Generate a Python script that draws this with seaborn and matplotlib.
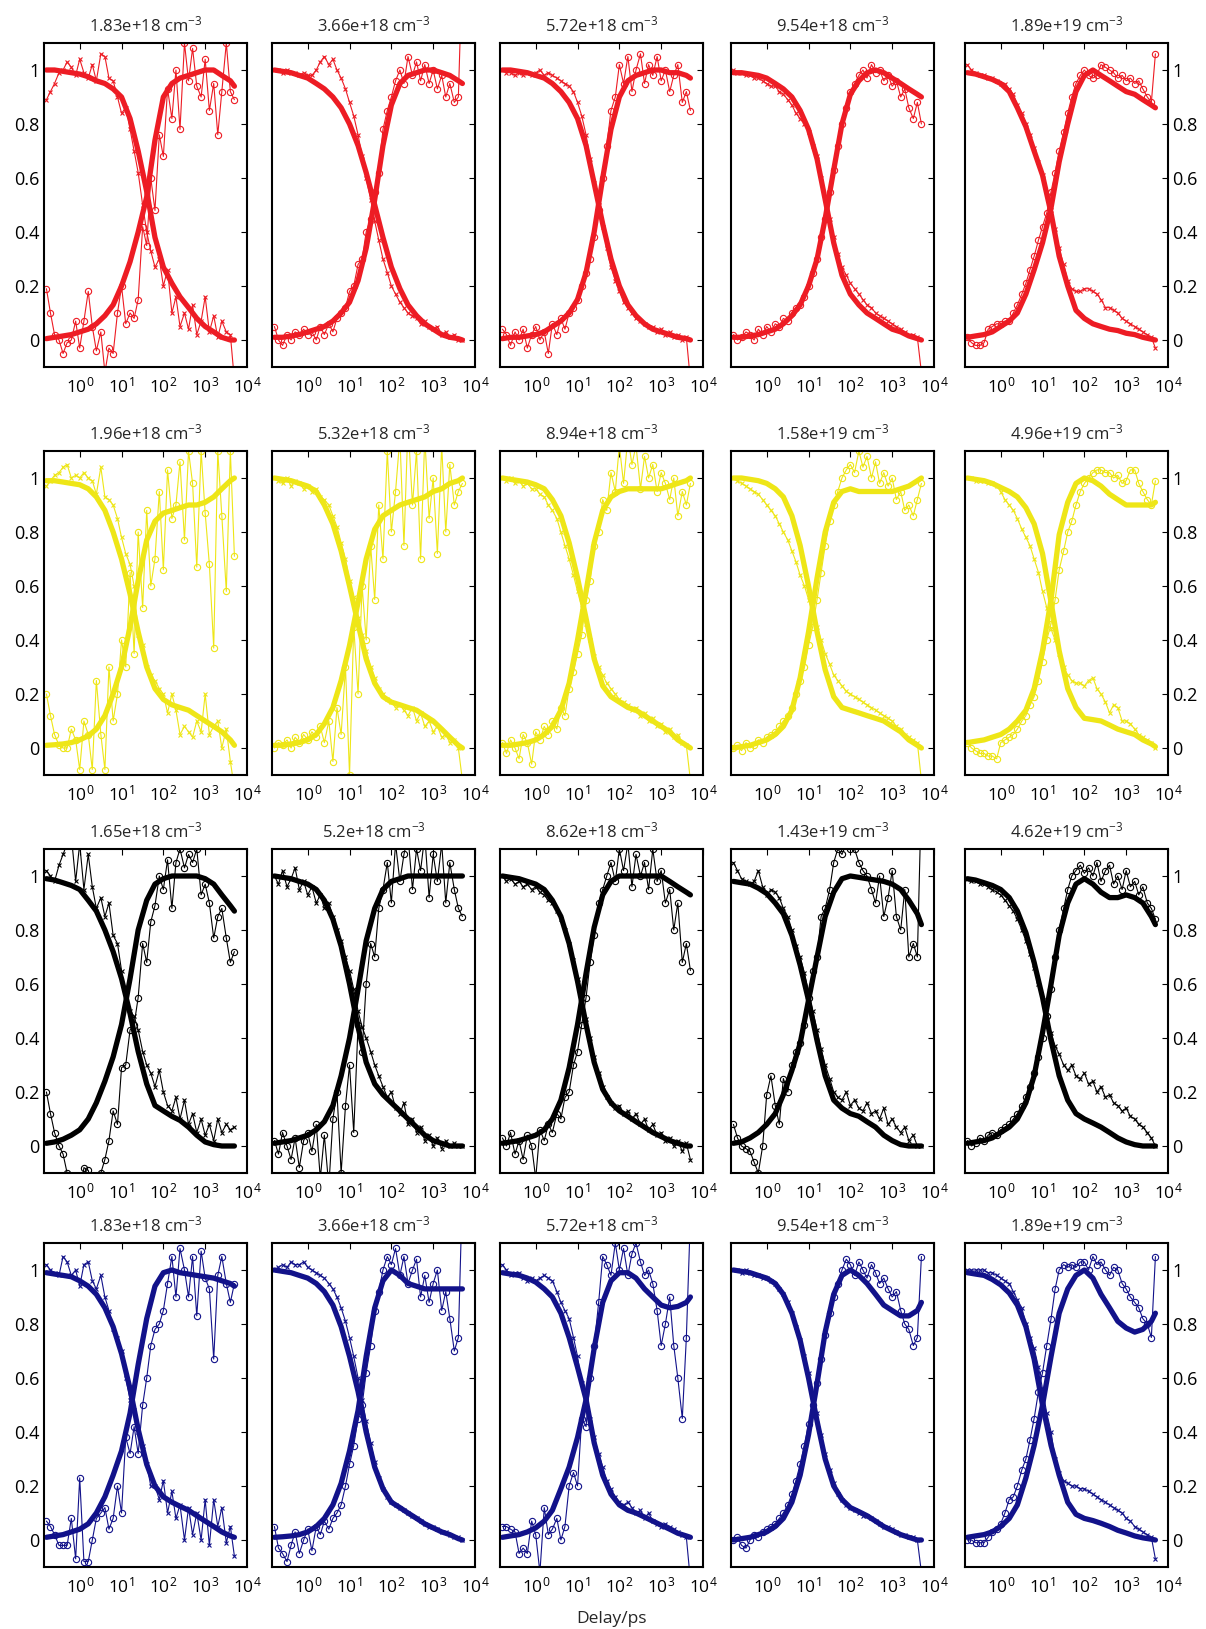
import matplotlib
matplotlib.use("Agg")
import matplotlib.pyplot as plt
import seaborn as sns

# Delays (ps) for the fitted curves and for the measured points
fit_delay = [0.16, 0.25, 0.4, 0.63, 1, 1.6, 2.5, 4, 6.3, 10, 16, 25, 40, 63, 100, 160,
             250, 400, 630, 1000, 1600, 2500, 4000, 5000]
data_delay = [0.16, 0.2, 0.25, 0.32, 0.4, 0.5, 0.63, 0.8, 1.0, 1.26, 1.6, 2.0, 2.5, 3.2, 4.0,
              5.0, 6.3, 8.0, 10, 12.6, 16, 20, 25, 32, 40, 50, 63, 80, 100, 126, 160, 200,
              250, 320, 400, 500, 630, 800, 1000, 1260, 1600, 2000, 2500, 3200, 4000, 5000]

# Panel titles (carrier density), one list per row
density_row1 = ["1.83e+18", "3.66e+18", "5.72e+18", "9.54e+18", "1.89e+19"]
density_row2 = ["1.96e+18", "5.32e+18", "8.94e+18", "1.58e+19", "4.96e+19"]
density_row3 = ["1.65e+18", "5.2e+18", "8.62e+18", "1.43e+19", "4.62e+19"]
density_row4 = ["1.83e+18", "3.66e+18", "5.72e+18", "9.54e+18", "1.89e+19"]

# ---- row 1 (red) ----
fit_decay_row1 = [
    [1.0, 1.0, 0.995, 0.99, 0.985, 0.975, 0.96, 0.95, 0.93, 0.9, 0.82, 0.7, 0.55, 0.38, 0.27, 0.21, 0.16, 0.12, 0.08, 0.05, 0.03, 0.01, 0.0, 0.0],
    [1.0, 0.995, 0.99, 0.98, 0.97, 0.95, 0.93, 0.9, 0.86, 0.8, 0.72, 0.62, 0.5, 0.38, 0.27, 0.19, 0.13, 0.09, 0.06, 0.04, 0.02, 0.01, 0.005, 0.0],
    [1.0, 1.0, 0.995, 0.99, 0.98, 0.97, 0.95, 0.92, 0.88, 0.82, 0.72, 0.58, 0.43, 0.3, 0.2, 0.13, 0.09, 0.06, 0.04, 0.03, 0.02, 0.01, 0.005, 0.0],
    [0.99, 0.99, 0.985, 0.98, 0.97, 0.95, 0.93, 0.9, 0.85, 0.78, 0.67, 0.52, 0.36, 0.24, 0.17, 0.13, 0.1, 0.08, 0.06, 0.04, 0.03, 0.015, 0.005, 0.0],
    [0.99, 0.985, 0.975, 0.965, 0.95, 0.92, 0.86, 0.79, 0.7, 0.61, 0.47, 0.31, 0.2, 0.11, 0.08, 0.06, 0.05, 0.04, 0.035, 0.025, 0.02, 0.01, 0.003, 0.0],
]
fit_rise_row1 = [
    [0.005, 0.01, 0.015, 0.02, 0.03, 0.04, 0.06, 0.09, 0.13, 0.2, 0.29, 0.4, 0.53, 0.74, 0.9, 0.95, 0.97, 0.98, 0.99, 1.0, 1.0, 0.98, 0.96, 0.94],
    [0.01, 0.01, 0.015, 0.02, 0.03, 0.04, 0.05, 0.07, 0.1, 0.14, 0.22, 0.34, 0.52, 0.72, 0.87, 0.95, 0.98, 0.99, 1.0, 1.0, 0.99, 0.98, 0.96, 0.95],
    [0.005, 0.01, 0.01, 0.015, 0.02, 0.03, 0.05, 0.07, 0.1, 0.15, 0.25, 0.4, 0.6, 0.78, 0.9, 0.96, 0.98, 0.99, 1.0, 1.0, 0.99, 0.99, 0.98, 0.97],
    [0.01, 0.01, 0.015, 0.02, 0.03, 0.04, 0.06, 0.09, 0.13, 0.2, 0.3, 0.45, 0.63, 0.8, 0.91, 0.96, 0.99, 1.0, 0.99, 0.97, 0.95, 0.93, 0.91, 0.9],
    [0.01, 0.015, 0.02, 0.03, 0.05, 0.07, 0.1, 0.17, 0.26, 0.36, 0.49, 0.66, 0.8, 0.92, 0.98, 1.0, 0.98, 0.96, 0.94, 0.92, 0.91, 0.89, 0.87, 0.86],
]
data_decay_row1 = [
    [0.89, 0.92, 0.95, 0.99, 1.0, 1.03, 1.01, 0.98, 1.04, 0.99, 0.97, 1.02, 0.96, 1.06, 1.05, 0.97, 0.96, 0.9, 0.84, 0.86, 0.78, 0.7, 0.62, 0.5, 0.4, 0.33, 0.27, 0.3, 0.2, 0.26, 0.1, 0.16, 0.05, 0.1, 0.04, 0.13, 0.02, 0.07, 0.16, 0.03, 0.09, 0.01, 0.07, 0.03, 0.02, -0.15],
    [1.0, 1.0, 0.99, 1.0, 0.99, 0.99, 0.98, 0.99, 0.98, 0.98, 1.0, 1.03, 1.05, 1.02, 1.04, 1.0, 0.97, 0.93, 0.88, 0.83, 0.76, 0.68, 0.6, 0.52, 0.44, 0.37, 0.3, 0.25, 0.2, 0.17, 0.14, 0.12, 0.1, 0.09, 0.08, 0.06, 0.07, 0.05, 0.04, 0.05, 0.02, 0.03, 0.01, 0.02, 0.0, 0.0],
    [1.0, 0.99, 0.99, 0.98, 0.99, 0.98, 0.99, 0.98, 0.99, 1.0, 0.98, 0.99, 0.98, 0.97, 0.96, 0.95, 0.94, 0.92, 0.88, 0.83, 0.76, 0.67, 0.58, 0.5, 0.42, 0.34, 0.27, 0.22, 0.18, 0.14, 0.12, 0.1, 0.08, 0.07, 0.06, 0.05, 0.05, 0.03, 0.04, 0.02, 0.03, 0.01, 0.02, 0.0, 0.01, -0.15],
    [1.0, 0.99, 0.99, 0.98, 0.98, 0.97, 0.97, 0.96, 0.95, 0.94, 0.94, 0.92, 0.91, 0.89, 0.87, 0.84, 0.82, 0.8, 0.77, 0.72, 0.68, 0.6, 0.53, 0.45, 0.38, 0.32, 0.27, 0.24, 0.21, 0.19, 0.17, 0.15, 0.13, 0.12, 0.1, 0.09, 0.08, 0.07, 0.06, 0.05, 0.04, 0.03, 0.02, 0.02, 0.01, -0.12],
    [1.02, 1.0, 0.99, 0.98, 0.98, 0.97, 0.97, 0.96, 0.95, 0.95, 0.93, 0.91, 0.87, 0.84, 0.8, 0.76, 0.71, 0.66, 0.61, 0.55, 0.48, 0.41, 0.34, 0.28, 0.22, 0.19, 0.18, 0.18, 0.19, 0.19, 0.18, 0.17, 0.15, 0.12, 0.12, 0.11, 0.1, 0.08, 0.07, 0.06, 0.05, 0.04, 0.03, 0.02, 0.01, -0.03],
]
data_rise_row1 = [
    [0.19, 0.1, 0.02, 0.0, -0.05, -0.01, 0.0, 0.07, -0.03, 0.07, 0.18, 0.05, -0.04, 0.03, -0.12, -0.03, -0.05, 0.1, 0.2, 0.06, 0.1, 0.08, 0.15, 0.42, 0.35, 0.6, 0.48, 0.76, 0.68, 0.93, 0.82, 1.0, 0.78, 1.1, 0.96, 1.08, 0.94, 0.9, 1.04, 0.85, 0.95, 0.76, 0.92, 1.1, 0.92, 0.89],
    [0.05, 0.0, -0.02, 0.02, 0.0, 0.03, 0.02, 0.04, 0.02, 0.03, 0.0, 0.05, 0.02, 0.06, 0.03, 0.08, 0.1, 0.12, 0.18, 0.2, 0.28, 0.3, 0.4, 0.45, 0.55, 0.62, 0.78, 0.85, 0.9, 0.96, 1.0, 0.95, 1.05, 0.98, 1.03, 0.96, 1.02, 0.95, 1.0, 0.93, 0.98, 0.9, 0.95, 0.88, 0.9, 1.4],
    [0.04, 0.02, -0.02, 0.03, 0.0, 0.04, -0.03, 0.02, 0.05, 0.0, 0.03, -0.05, 0.06, 0.02, 0.08, 0.04, 0.1, 0.12, 0.15, 0.2, 0.25, 0.3, 0.38, 0.48, 0.6, 0.72, 0.85, 0.9, 1.02, 0.95, 1.05, 0.92, 1.0, 1.06, 0.95, 1.02, 0.98, 1.05, 0.96, 1.0, 0.92, 0.98, 1.02, 0.88, 0.92, 0.85],
    [0.02, 0.0, 0.01, 0.03, 0.02, 0.0, 0.04, 0.02, 0.05, 0.03, 0.06, 0.05, 0.08, 0.07, 0.1, 0.12, 0.13, 0.16, 0.2, 0.25, 0.3, 0.38, 0.45, 0.55, 0.63, 0.72, 0.8, 0.86, 0.92, 0.95, 0.98, 1.0, 0.97, 1.02, 0.99, 1.0, 0.96, 0.98, 0.94, 0.96, 0.9, 0.93, 0.86, 0.82, 0.88, 0.8],
    [0.01, -0.01, -0.02, -0.02, -0.01, 0.04, 0.05, 0.06, 0.06, 0.07, 0.07, 0.1, 0.13, 0.17, 0.21, 0.26, 0.31, 0.37, 0.42, 0.47, 0.55, 0.62, 0.7, 0.77, 0.84, 0.9, 0.95, 0.98, 1.0, 0.98, 0.97, 0.98, 1.02, 1.01, 1.0, 0.99, 0.97, 0.98, 0.96, 0.97, 0.95, 0.96, 0.93, 0.9, 0.88, 1.06],
]

# ---- row 2 (yellow) ----
fit_decay_row2 = [
    [0.99, 0.99, 0.985, 0.98, 0.975, 0.96, 0.93, 0.88, 0.8, 0.7, 0.57, 0.43, 0.3, 0.22, 0.18, 0.16, 0.15, 0.14, 0.12, 0.1, 0.08, 0.06, 0.03, 0.01],
    [1.0, 0.995, 0.99, 0.98, 0.97, 0.95, 0.9, 0.83, 0.73, 0.6, 0.46, 0.33, 0.24, 0.19, 0.17, 0.16, 0.15, 0.14, 0.12, 0.1, 0.07, 0.04, 0.01, 0.0],
    [1.0, 0.995, 0.99, 0.985, 0.975, 0.96, 0.92, 0.86, 0.76, 0.63, 0.48, 0.33, 0.23, 0.19, 0.17, 0.15, 0.14, 0.12, 0.1, 0.08, 0.06, 0.03, 0.01, 0.0],
    [1.0, 1.0, 0.995, 0.99, 0.98, 0.96, 0.93, 0.86, 0.75, 0.6, 0.43, 0.29, 0.19, 0.15, 0.14, 0.13, 0.12, 0.11, 0.1, 0.08, 0.06, 0.03, 0.01, 0.0],
    [1.0, 0.995, 0.99, 0.98, 0.965, 0.95, 0.93, 0.89, 0.83, 0.72, 0.54, 0.36, 0.22, 0.15, 0.11, 0.105, 0.1, 0.085, 0.07, 0.06, 0.05, 0.03, 0.015, 0.005],
]
fit_rise_row2 = [
    [0.01, 0.012, 0.015, 0.02, 0.03, 0.045, 0.07, 0.12, 0.2, 0.3, 0.45, 0.62, 0.77, 0.84, 0.87, 0.88, 0.89, 0.9, 0.9, 0.91, 0.93, 0.96, 0.99, 1.0],
    [0.01, 0.01, 0.015, 0.02, 0.03, 0.05, 0.09, 0.15, 0.25, 0.38, 0.54, 0.7, 0.81, 0.86, 0.88, 0.9, 0.91, 0.92, 0.93, 0.95, 0.96, 0.98, 0.99, 1.0],
    [0.01, 0.01, 0.015, 0.02, 0.03, 0.05, 0.08, 0.14, 0.24, 0.4, 0.58, 0.76, 0.88, 0.93, 0.95, 0.96, 0.96, 0.96, 0.96, 0.96, 0.97, 0.98, 0.99, 1.0],
    [0.0, 0.005, 0.01, 0.02, 0.03, 0.05, 0.08, 0.14, 0.26, 0.43, 0.63, 0.8, 0.91, 0.95, 0.96, 0.95, 0.95, 0.95, 0.95, 0.95, 0.96, 0.97, 0.99, 1.0],
    [0.02, 0.025, 0.03, 0.04, 0.05, 0.07, 0.1, 0.14, 0.22, 0.36, 0.55, 0.79, 0.91, 0.98, 1.0, 0.99, 0.97, 0.94, 0.92, 0.9, 0.9, 0.9, 0.9, 0.91],
]
data_decay_row2 = [
    [0.97, 0.99, 1.01, 1.02, 1.04, 1.05, 1.0, 1.01, 1.0, 1.02, 1.0, 0.99, 0.94, 1.04, 0.93, 0.92, 0.9, 0.85, 0.78, 0.72, 0.68, 0.6, 0.42, 0.38, 0.3, 0.27, 0.25, 0.22, 0.2, 0.13, 0.2, 0.14, 0.05, 0.08, 0.06, 0.04, 0.1, 0.06, 0.2, 0.05, 0.08, 0.1, 0.0, 0.07, -0.05, -0.15],
    [1.0, 0.99, 0.98, 1.0, 0.97, 0.99, 0.98, 0.96, 0.97, 0.95, 0.96, 0.93, 0.92, 0.9, 0.86, 0.82, 0.76, 0.7, 0.62, 0.56, 0.48, 0.42, 0.36, 0.3, 0.26, 0.22, 0.2, 0.18, 0.17, 0.15, 0.16, 0.14, 0.12, 0.15, 0.1, 0.13, 0.08, 0.1, 0.06, 0.08, 0.04, 0.05, 0.02, 0.03, 0.0, -0.12],
    [1.0, 0.99, 1.0, 0.98, 0.99, 0.97, 0.98, 0.96, 0.96, 0.94, 0.93, 0.9, 0.88, 0.85, 0.8, 0.75, 0.7, 0.64, 0.58, 0.52, 0.46, 0.4, 0.34, 0.3, 0.27, 0.24, 0.22, 0.2, 0.18, 0.17, 0.16, 0.14, 0.15, 0.12, 0.13, 0.1, 0.11, 0.08, 0.09, 0.06, 0.07, 0.04, 0.05, 0.02, 0.01, -0.12],
    [1.0, 0.99, 0.98, 0.97, 0.96, 0.95, 0.94, 0.92, 0.9, 0.88, 0.86, 0.83, 0.8, 0.77, 0.73, 0.69, 0.64, 0.6, 0.55, 0.5, 0.45, 0.4, 0.35, 0.31, 0.27, 0.25, 0.23, 0.21, 0.2, 0.19, 0.18, 0.17, 0.16, 0.15, 0.14, 0.13, 0.12, 0.11, 0.1, 0.08, 0.07, 0.05, 0.04, 0.03, 0.02, -0.12],
    [1.0, 1.0, 0.99, 0.99, 0.99, 0.98, 0.98, 0.97, 0.95, 0.92, 0.9, 0.88, 0.85, 0.81, 0.78, 0.75, 0.7, 0.65, 0.58, 0.52, 0.44, 0.4, 0.35, 0.3, 0.27, 0.25, 0.24, 0.24, 0.23, 0.25, 0.26, 0.22, 0.2, 0.17, 0.13, 0.16, 0.15, 0.1, 0.1, 0.09, 0.07, 0.05, 0.04, 0.03, 0.02, 0.0],
]
data_rise_row2 = [
    [0.2, 0.12, 0.05, 0.01, 0.0, 0.0, 0.07, 0.03, -0.08, 0.1, 0.05, -0.08, 0.25, 0.05, -0.08, 0.3, 0.1, 0.2, 0.4, 0.3, 0.65, 0.35, 0.8, 0.52, 0.88, 0.6, 0.7, 0.95, 0.66, 1.03, 0.85, 0.9, 1.06, 0.77, 1.1, 0.98, 0.67, 1.1, 0.87, 0.68, 0.37, 1.1, 0.86, 0.58, 1.1, 0.71],
    [0.0, 0.02, 0.01, 0.03, 0.0, 0.04, 0.02, 0.05, 0.03, 0.06, 0.04, 0.08, 0.02, 0.1, -0.05, 0.15, 0.05, 0.3, -0.1, 0.45, 0.2, 0.6, 0.4, 0.75, 0.55, 0.9, 0.7, 1.1, 0.8, 0.95, 1.15, 0.75, 1.2, 0.9, 1.1, 0.7, 1.15, 0.85, 1.0, 0.72, 1.12, 0.8, 1.05, 0.9, 0.95, 0.98],
    [0.02, -0.02, 0.03, 0.0, -0.04, 0.05, 0.02, -0.06, 0.06, 0.03, 0.08, 0.05, 0.1, 0.07, 0.15, 0.12, 0.22, 0.28, 0.35, 0.42, 0.55, 0.62, 0.75, 0.8, 0.92, 0.88, 1.02, 0.95, 1.12, 0.98, 1.15, 1.05, 1.12, 0.96, 1.08, 1.0, 1.05, 0.95, 1.02, 0.98, 0.92, 1.0, 0.86, 0.95, 0.9, 0.98],
    [0.0, 0.01, -0.01, 0.02, 0.0, 0.01, 0.03, 0.02, 0.04, 0.05, 0.06, 0.08, 0.1, 0.12, 0.15, 0.2, 0.25, 0.3, 0.38, 0.45, 0.55, 0.65, 0.75, 0.84, 0.9, 0.95, 1.0, 1.03, 1.05, 1.02, 1.1, 1.04, 1.08, 1.0, 1.06, 0.98, 1.02, 0.97, 1.0, 0.92, 0.95, 0.88, 0.9, 0.86, 0.92, 0.98],
    [0.02, 0.0, -0.01, -0.02, -0.02, -0.03, -0.03, -0.04, 0.02, 0.03, 0.04, 0.05, 0.07, 0.1, 0.12, 0.16, 0.19, 0.25, 0.32, 0.4, 0.46, 0.55, 0.66, 0.73, 0.8, 0.84, 0.9, 0.95, 0.98, 1.0, 1.02, 1.03, 1.03, 1.02, 1.02, 1.0, 1.01, 0.98, 0.99, 1.03, 1.03, 0.98, 0.95, 0.92, 0.9, 0.99],
]

# ---- row 3 (black) ----
fit_decay_row3 = [
    [0.99, 0.985, 0.975, 0.965, 0.95, 0.91, 0.87, 0.8, 0.72, 0.62, 0.49, 0.35, 0.23, 0.15, 0.13, 0.11, 0.095, 0.07, 0.04, 0.015, 0.005, 0.0, 0.0, 0.0],
    [1.0, 0.995, 0.99, 0.98, 0.97, 0.95, 0.91, 0.84, 0.74, 0.6, 0.44, 0.31, 0.23, 0.19, 0.16, 0.13, 0.1, 0.07, 0.04, 0.02, 0.01, 0.0, 0.0, 0.0],
    [1.0, 0.995, 0.99, 0.98, 0.97, 0.95, 0.91, 0.85, 0.75, 0.61, 0.45, 0.31, 0.21, 0.16, 0.13, 0.11, 0.09, 0.07, 0.05, 0.035, 0.02, 0.01, 0.0, 0.0],
    [0.98, 0.975, 0.97, 0.955, 0.935, 0.9, 0.86, 0.78, 0.67, 0.54, 0.39, 0.26, 0.17, 0.14, 0.12, 0.11, 0.09, 0.07, 0.04, 0.02, 0.005, 0.0, 0.0, 0.0],
    [0.99, 0.985, 0.975, 0.965, 0.95, 0.92, 0.87, 0.79, 0.68, 0.55, 0.39, 0.26, 0.17, 0.12, 0.1, 0.085, 0.07, 0.05, 0.03, 0.015, 0.005, 0.0, 0.0, 0.0],
]
fit_rise_row3 = [
    [0.01, 0.015, 0.025, 0.04, 0.06, 0.1, 0.16, 0.24, 0.33, 0.45, 0.62, 0.8, 0.91, 0.97, 0.99, 1.0, 1.0, 1.0, 1.0, 0.99, 0.97, 0.93, 0.89, 0.87],
    [0.01, 0.015, 0.02, 0.03, 0.04, 0.06, 0.09, 0.15, 0.26, 0.4, 0.58, 0.76, 0.88, 0.95, 0.98, 0.99, 1.0, 1.0, 1.0, 1.0, 1.0, 1.0, 1.0, 1.0],
    [0.01, 0.015, 0.02, 0.03, 0.04, 0.06, 0.1, 0.17, 0.29, 0.45, 0.64, 0.81, 0.93, 0.98, 1.0, 1.0, 1.0, 1.0, 1.0, 1.0, 0.98, 0.96, 0.94, 0.93],
    [0.01, 0.015, 0.03, 0.05, 0.08, 0.12, 0.19, 0.28, 0.38, 0.54, 0.7, 0.85, 0.94, 0.99, 1.0, 0.995, 0.99, 0.985, 0.98, 0.97, 0.95, 0.91, 0.86, 0.82],
    [0.01, 0.015, 0.02, 0.03, 0.05, 0.07, 0.1, 0.16, 0.26, 0.42, 0.6, 0.78, 0.9, 0.97, 0.99, 0.97, 0.94, 0.92, 0.92, 0.93, 0.92, 0.9, 0.85, 0.82],
]
data_decay_row3 = [
    [1.02, 1.0, 0.98, 1.04, 1.08, 1.12, 1.15, 0.98, 1.12, 0.95, 1.08, 0.96, 0.88, 0.92, 0.85, 0.9, 0.78, 0.75, 0.65, 0.52, 0.5, 0.48, 0.43, 0.35, 0.3, 0.27, 0.22, 0.28, 0.2, 0.15, 0.13, 0.18, 0.1, 0.17, 0.08, 0.12, 0.05, 0.1, 0.04, 0.08, 0.02, 0.1, 0.05, 0.08, 0.06, 0.07],
    [1.0, 0.97, 1.02, 0.96, 0.99, 1.03, 0.95, 0.98, 0.93, 0.96, 0.9, 0.93, 0.88, 0.9, 0.85, 0.8, 0.76, 0.7, 0.65, 0.58, 0.5, 0.44, 0.4, 0.35, 0.3, 0.26, 0.22, 0.18, 0.2, 0.14, 0.12, 0.16, 0.08, 0.1, 0.05, 0.07, 0.02, 0.04, 0.0, 0.03, -0.01, 0.02, 0.0, 0.01, 0.0, 0.0],
    [1.0, 0.98, 0.99, 0.97, 0.98, 0.96, 0.97, 0.95, 0.96, 0.94, 0.93, 0.91, 0.9, 0.87, 0.84, 0.8, 0.75, 0.69, 0.62, 0.55, 0.47, 0.4, 0.33, 0.27, 0.22, 0.18, 0.16, 0.14, 0.15, 0.12, 0.13, 0.1, 0.12, 0.08, 0.1, 0.06, 0.08, 0.04, 0.05, 0.02, 0.03, 0.0, 0.02, -0.02, 0.01, -0.05],
    [1.05, 1.02, 0.99, 0.98, 0.97, 0.98, 1.02, 0.96, 0.93, 0.95, 0.94, 0.92, 0.88, 0.85, 0.8, 0.74, 0.7, 0.64, 0.57, 0.5, 0.43, 0.36, 0.3, 0.25, 0.2, 0.18, 0.17, 0.2, 0.15, 0.17, 0.14, 0.13, 0.16, 0.12, 0.13, 0.1, 0.14, 0.08, 0.1, 0.07, 0.05, 0.07, 0.02, 0.04, 0.0, 0.0],
    [0.99, 0.98, 0.98, 0.97, 0.97, 0.96, 0.95, 0.94, 0.93, 0.91, 0.89, 0.87, 0.84, 0.8, 0.76, 0.71, 0.66, 0.6, 0.54, 0.48, 0.42, 0.37, 0.34, 0.3, 0.28, 0.3, 0.26, 0.25, 0.27, 0.23, 0.24, 0.2, 0.22, 0.18, 0.19, 0.16, 0.15, 0.13, 0.14, 0.11, 0.1, 0.08, 0.07, 0.05, 0.03, 0.0],
]
data_rise_row3 = [
    [0.2, 0.12, 0.05, 0.0, -0.03, -0.1, -0.15, -0.12, -0.2, -0.08, -0.09, -0.15, -0.2, -0.1, -0.05, 0.02, 0.13, 0.08, 0.29, 0.3, 0.43, 0.45, 0.55, 0.75, 0.68, 0.83, 0.89, 1.0, 0.95, 1.06, 0.88, 1.05, 1.1, 1.03, 1.08, 1.05, 1.1, 0.93, 0.97, 0.9, 0.77, 0.85, 0.88, 0.77, 0.68, 0.72],
    [0.02, -0.03, 0.05, 0.0, -0.05, 0.03, -0.08, 0.02, 0.05, -0.02, 0.08, -0.12, 0.04, -0.15, 0.1, 0.2, -0.1, 0.15, 0.3, 0.05, 0.45, 0.35, 0.6, 0.75, 0.7, 0.88, 0.95, 1.05, 0.9, 1.12, 0.98, 1.08, 1.15, 0.95, 1.1, 1.02, 1.15, 0.92, 1.08, 0.98, 1.12, 0.9, 1.05, 0.95, 0.88, 0.85],
    [0.03, 0.0, 0.05, -0.03, 0.02, -0.05, 0.04, 0.0, -0.12, 0.06, 0.02, 0.08, 0.05, 0.12, 0.1, 0.18, 0.2, 0.3, 0.35, 0.45, 0.55, 0.68, 0.78, 0.9, 0.95, 1.0, 1.05, 0.98, 1.1, 1.02, 1.12, 0.96, 1.08, 1.0, 1.05, 0.95, 1.1, 0.98, 1.02, 0.9, 0.95, 0.8, 0.9, 0.68, 0.75, 0.65],
    [0.08, 0.03, 0.0, -0.01, -0.02, -0.06, -0.1, 0.0, 0.19, 0.26, 0.15, 0.08, 0.25, 0.2, 0.3, 0.35, 0.38, 0.45, 0.55, 0.65, 0.7, 0.85, 0.88, 0.95, 1.05, 1.1, 1.08, 1.12, 1.1, 1.1, 1.05, 1.02, 1.0, 0.95, 0.9, 1.0, 0.85, 0.92, 1.02, 0.85, 0.8, 0.95, 0.7, 0.75, 0.7, 1.3],
    [0.02, 0.0, 0.01, 0.03, 0.02, 0.04, 0.05, 0.04, 0.06, 0.07, 0.08, 0.1, 0.12, 0.15, 0.18, 0.22, 0.27, 0.33, 0.4, 0.48, 0.58, 0.7, 0.8, 0.88, 0.95, 1.0, 1.02, 1.04, 1.01, 1.03, 1.0, 1.05, 0.98, 1.02, 1.04, 0.97, 1.0, 0.95, 1.02, 0.96, 0.98, 0.93, 0.96, 0.9, 0.88, 0.84],
]

# ---- row 4 (blue) ----
fit_decay_row4 = [
    [0.99, 0.985, 0.98, 0.975, 0.96, 0.94, 0.91, 0.86, 0.79, 0.69, 0.56, 0.41, 0.28, 0.2, 0.16, 0.14, 0.125, 0.11, 0.09, 0.07, 0.05, 0.03, 0.015, 0.01],
    [1.0, 0.995, 0.99, 0.98, 0.97, 0.95, 0.92, 0.87, 0.79, 0.68, 0.55, 0.4, 0.27, 0.19, 0.14, 0.12, 0.1, 0.08, 0.06, 0.045, 0.03, 0.02, 0.005, 0.0],
    [0.99, 0.985, 0.98, 0.97, 0.955, 0.93, 0.9, 0.84, 0.75, 0.64, 0.52, 0.36, 0.24, 0.17, 0.13, 0.11, 0.1, 0.085, 0.07, 0.055, 0.04, 0.025, 0.015, 0.01],
    [1.0, 0.995, 0.99, 0.98, 0.97, 0.95, 0.91, 0.84, 0.74, 0.6, 0.44, 0.3, 0.2, 0.15, 0.12, 0.105, 0.09, 0.07, 0.05, 0.035, 0.02, 0.01, 0.0, 0.0],
    [0.99, 0.985, 0.98, 0.965, 0.945, 0.915, 0.87, 0.79, 0.67, 0.5, 0.35, 0.24, 0.14, 0.095, 0.08, 0.072, 0.062, 0.05, 0.036, 0.026, 0.015, 0.008, 0.003, 0.0],
]
fit_rise_row4 = [
    [0.01, 0.015, 0.02, 0.03, 0.04, 0.06, 0.1, 0.16, 0.24, 0.33, 0.47, 0.65, 0.82, 0.94, 0.99, 1.0, 0.99, 0.985, 0.98, 0.975, 0.97, 0.96, 0.95, 0.94],
    [0.01, 0.012, 0.015, 0.02, 0.03, 0.05, 0.08, 0.13, 0.21, 0.33, 0.48, 0.68, 0.86, 0.96, 1.0, 0.98, 0.95, 0.94, 0.93, 0.93, 0.93, 0.93, 0.93, 0.93],
    [0.01, 0.015, 0.02, 0.03, 0.045, 0.07, 0.11, 0.19, 0.27, 0.38, 0.52, 0.71, 0.88, 0.96, 0.99, 0.99, 0.97, 0.93, 0.9, 0.87, 0.86, 0.865, 0.88, 0.9],
    [0.0, 0.005, 0.01, 0.02, 0.03, 0.05, 0.08, 0.14, 0.24, 0.39, 0.58, 0.77, 0.91, 0.98, 1.0, 0.98, 0.95, 0.91, 0.87, 0.85, 0.83, 0.83, 0.85, 0.88],
    [0.01, 0.015, 0.02, 0.03, 0.05, 0.08, 0.13, 0.23, 0.35, 0.5, 0.68, 0.84, 0.93, 0.98, 1.0, 0.97, 0.91, 0.86, 0.81, 0.785, 0.77, 0.78, 0.81, 0.84],
]
data_decay_row4 = [
    [1.02, 1.0, 0.99, 0.98, 1.05, 1.03, 0.98, 1.0, 0.94, 1.02, 1.03, 0.96, 0.93, 0.98, 0.9, 0.85, 0.78, 0.75, 0.7, 0.6, 0.52, 0.48, 0.4, 0.35, 0.28, 0.2, 0.2, 0.15, 0.22, 0.1, 0.18, 0.08, 0.13, 0.0, 0.12, 0.02, 0.1, 0.0, 0.15, -0.02, 0.15, 0.05, 0.12, -0.01, 0.05, -0.06],
    [1.0, 1.01, 1.02, 1.01, 1.03, 1.02, 1.02, 1.03, 1.01, 1.0, 0.99, 0.98, 0.97, 0.95, 0.93, 0.9, 0.86, 0.81, 0.75, 0.68, 0.6, 0.52, 0.44, 0.36, 0.29, 0.23, 0.19, 0.16, 0.14, 0.13, 0.12, 0.11, 0.1, 0.09, 0.08, 0.07, 0.06, 0.05, 0.05, 0.04, 0.03, 0.03, 0.02, 0.01, 0.01, 0.0],
    [1.02, 1.0, 0.98, 0.99, 0.99, 0.97, 0.96, 0.97, 0.96, 0.97, 0.98, 0.97, 0.96, 0.92, 0.88, 0.85, 0.82, 0.75, 0.68, 0.58, 0.52, 0.45, 0.38, 0.32, 0.27, 0.22, 0.19, 0.16, 0.14, 0.13, 0.14, 0.12, 0.1, 0.11, 0.08, 0.1, 0.07, 0.06, 0.05, 0.06, 0.05, 0.04, 0.03, 0.02, 0.01, -0.15],
    [1.0, 1.0, 0.99, 1.0, 0.99, 0.98, 0.98, 0.97, 0.97, 0.96, 0.95, 0.93, 0.91, 0.88, 0.84, 0.79, 0.74, 0.68, 0.62, 0.54, 0.47, 0.39, 0.32, 0.26, 0.21, 0.17, 0.15, 0.13, 0.12, 0.11, 0.1, 0.09, 0.09, 0.08, 0.07, 0.06, 0.05, 0.05, 0.04, 0.03, 0.02, 0.02, 0.01, 0.01, 0.0, -0.12],
    [1.0, 1.0, 1.0, 1.0, 1.0, 0.99, 0.99, 0.98, 0.97, 0.96, 0.95, 0.92, 0.89, 0.86, 0.8, 0.75, 0.71, 0.64, 0.56, 0.47, 0.4, 0.3, 0.25, 0.22, 0.21, 0.2, 0.2, 0.19, 0.19, 0.18, 0.17, 0.16, 0.15, 0.14, 0.13, 0.12, 0.11, 0.1, 0.08, 0.07, 0.05, 0.04, 0.03, 0.02, 0.01, -0.07],
]
data_rise_row4 = [
    [0.07, 0.05, 0.02, -0.02, -0.02, -0.02, 0.08, -0.07, 0.23, -0.08, -0.08, 0.0, 0.08, 0.1, 0.12, 0.04, 0.08, 0.2, 0.1, 0.38, 0.32, 0.42, 0.32, 0.5, 0.6, 0.72, 0.78, 0.8, 0.85, 0.95, 1.05, 0.9, 1.08, 1.0, 0.9, 1.05, 0.83, 1.07, 0.97, 0.93, 0.67, 0.98, 1.05, 0.95, 0.88, 0.95],
    [0.05, -0.03, -0.05, -0.08, -0.02, 0.03, -0.05, 0.0, 0.04, -0.04, 0.05, 0.02, 0.07, 0.04, 0.08, 0.1, 0.13, 0.2, 0.28, 0.35, 0.45, 0.5, 0.62, 0.72, 0.85, 0.92, 1.0, 1.05, 1.02, 1.08, 0.98, 1.05, 0.95, 1.0, 1.04, 0.9, 0.98, 0.88, 0.95, 1.0, 0.85, 0.92, 0.82, 0.7, 0.75, 1.3],
    [0.05, 0.05, 0.04, 0.03, -0.05, -0.03, -0.05, 0.07, 0.02, -0.12, 0.12, 0.02, 0.04, 0.08, 0.0, 0.05, 0.2, 0.25, 0.2, 0.45, 0.42, 0.6, 0.72, 0.88, 1.05, 1.02, 0.98, 1.1, 1.0, 1.08, 0.98, 1.06, 1.1, 1.03, 0.98, 1.0, 0.95, 0.85, 0.72, 0.8, 0.9, 0.72, 0.6, 0.45, 0.75, 1.2],
    [0.0, 0.01, -0.02, -0.03, 0.0, 0.02, 0.01, 0.03, 0.04, 0.05, 0.06, 0.08, 0.1, 0.13, 0.17, 0.22, 0.28, 0.35, 0.43, 0.5, 0.58, 0.67, 0.76, 0.84, 0.9, 0.95, 1.0, 1.04, 1.02, 0.98, 1.03, 1.0, 0.97, 1.02, 0.99, 0.95, 0.97, 0.93, 0.9, 0.92, 0.85, 0.8, 0.78, 0.72, 0.75, 1.05],
    [0.0, 0.0, -0.01, -0.01, -0.01, 0.01, 0.03, 0.04, 0.06, 0.1, 0.15, 0.16, 0.2, 0.26, 0.3, 0.37, 0.45, 0.55, 0.62, 0.72, 0.82, 0.93, 1.0, 1.02, 1.01, 1.02, 1.01, 1.03, 1.03, 1.0, 1.05, 1.02, 1.03, 1.0, 0.98, 1.01, 1.0, 0.95, 0.93, 0.9, 0.88, 0.86, 0.82, 0.8, 0.75, 1.05],
]

rows = [
    ("#ED1C24", density_row1, fit_decay_row1, fit_rise_row1, data_decay_row1, data_rise_row1),
    ("#EEE617", density_row2, fit_decay_row2, fit_rise_row2, data_decay_row2, data_rise_row2),
    ("#000000", density_row3, fit_decay_row3, fit_rise_row3, data_decay_row3, data_rise_row3),
    ("#12128A", density_row4, fit_decay_row4, fit_rise_row4, data_decay_row4, data_rise_row4),
]

sns.set_theme(style="white")
plt.rcParams["font.family"] = ["Open Sans", "DejaVu Sans"]
plt.rcParams["mathtext.fontset"] = "custom"
plt.rcParams["mathtext.rm"] = "Open Sans"
plt.rcParams["mathtext.it"] = "Open Sans:italic"
plt.rcParams["mathtext.bf"] = "Open Sans:bold"

W, H = 1206, 1629
col_left = [44, 272, 500, 731, 965]
row_top = [43, 451, 849, 1243]
ax_w, ax_h = 203, 324

fig = plt.figure(figsize=(W / 100, H / 100), dpi=100)

for r, (color, dens, f_dec, f_rise, d_dec, d_rise) in enumerate(rows):
    for c in range(5):
        ax = fig.add_axes([col_left[c] / W, 1 - (row_top[r] + ax_h) / H, ax_w / W, ax_h / H])

        # measured points: decay with x markers, rise with open circles
        sns.lineplot(x=data_delay, y=d_dec[c], ax=ax, color=color, lw=0.8, marker="x",
                     markersize=3, markeredgecolor=color, markeredgewidth=0.8,
                     estimator=None, legend=False)
        sns.lineplot(x=data_delay, y=d_rise[c], ax=ax, color=color, lw=0.8, marker="o",
                     markersize=4.5, markerfacecolor="none", markeredgecolor=color,
                     markeredgewidth=0.8, estimator=None, legend=False)
        # fitted curves
        sns.lineplot(x=fit_delay, y=f_dec[c], ax=ax, color=color, lw=3.8, estimator=None, legend=False)
        sns.lineplot(x=fit_delay, y=f_rise[c], ax=ax, color=color, lw=3.8, estimator=None, legend=False)

        ax.set_xscale("log")
        ax.set_xticks([1, 10, 100, 1000, 10000])
        ax.set_xlim(0.14, 1e4)
        ax.set_ylim(-0.1, 1.1)
        ax.set_xlabel("")
        ax.set_ylabel("")
        ax.set_yticks([0, 0.2, 0.4, 0.6, 0.8, 1.0], labels=["0", "0.2", "0.4", "0.6", "0.8", "1"])
        ax.tick_params(which="both", direction="in", top=True, right=True, colors="black")
        ax.tick_params(which="major", length=4, width=0.8)
        ax.tick_params(which="minor", length=2, width=0.6)
        ax.tick_params(axis="x", labelsize=12.5, pad=7)
        ax.tick_params(axis="y", labelsize=13, pad=3)
        if c == 0:
            ax.tick_params(axis="y", labelleft=True, labelright=False)
        elif c == 4:
            ax.tick_params(axis="y", labelleft=False, labelright=True)
        else:
            ax.tick_params(axis="y", labelleft=False, labelright=False)
        for s in ax.spines.values():
            s.set_color("black")
            s.set_linewidth(1.5)
        ax.set_title(f"{dens[c]} cm$^{{-3}}$", fontsize=12, pad=8)

fig.text(0.507, 1 - 1619 / H, "Delay/ps", ha="center", va="center", fontsize=12.5)
fig.savefig("out.png", dpi=100)
